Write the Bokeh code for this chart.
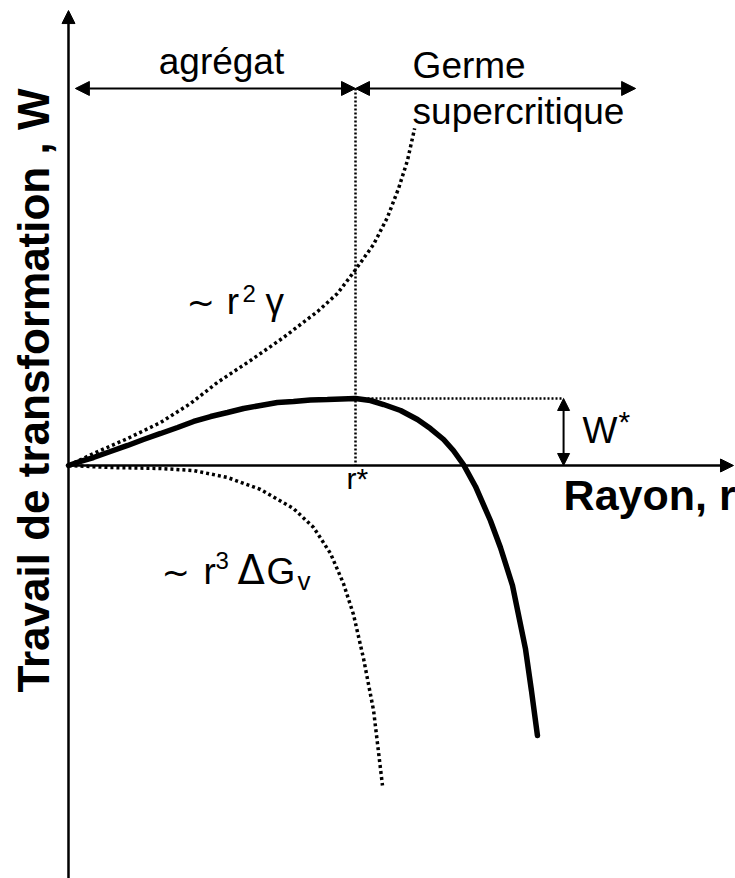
import math
from bokeh.plotting import figure
from bokeh.models import Range1d, Arrow, NormalHead, Label
from bokeh.embed import file_html
from bokeh.resources import INLINE

# ---- data (schematic units: r* = 1, W* = 1) ----
r_star = 1.0
w_star = 1.0
r_germe_end = 1.976

# total work W(r) (solid curve)
w_r = [0, 0.042, 0.087, 0.146, 0.206, 0.261, 0.321, 0.380, 0.436, 0.495, 0.554,
       0.610, 0.669, 0.728, 0.784, 0.843, 0.902, 0.951, 1.000, 1.052, 1.098,
       1.157, 1.216, 1.261, 1.307, 1.341, 1.376, 1.418, 1.470, 1.505, 1.547,
       1.592, 1.613, 1.634]
w_val = [0, 0.060, 0.119, 0.209, 0.299, 0.388, 0.478, 0.567, 0.657, 0.731, 0.791,
         0.851, 0.896, 0.940, 0.955, 0.978, 0.985, 0.993, 1.000, 0.970, 0.910,
         0.821, 0.687, 0.552, 0.388, 0.224, 0.015, -0.313, -0.821, -1.224, -1.791,
         -2.731, -3.358, -4.030]

# surface term ~ r^2 gamma (dotted)
surf_r = [0, 0.087, 0.206, 0.321, 0.425, 0.519, 0.634, 0.749, 0.868, 0.937,
          0.993, 1.063, 1.111, 1.150, 1.181, 1.206]
surf_val = [0, 0.179, 0.403, 0.642, 0.925, 1.239, 1.567, 1.910, 2.299, 2.567,
            2.881, 3.299, 3.701, 4.134, 4.552, 5.030]

# volume term ~ r^3 dGv (dotted)
vol_r = [0, 0.146, 0.321, 0.436, 0.554, 0.669, 0.784, 0.854, 0.913, 0.958,
         0.993, 1.028, 1.063, 1.094]
vol_val = [0, -0.030, -0.045, -0.075, -0.179, -0.358, -0.642, -0.925, -1.313,
           -1.761, -2.224, -2.881, -3.657, -4.776]

FONT = "Liberation Sans"

p = figure(width=735, height=878,
           x_range=Range1d(-0.2369, 2.3240), y_range=Range1d(-6.164, 6.940),
           x_axis_type=None, y_axis_type=None,
           output_backend="svg", toolbar_location=None, min_border=0)
p.grid.visible = False
p.outline_line_color = None
p.background_fill_color = "white"

def head(s):
    return NormalHead(size=s, fill_color="black", line_color="black", line_width=1)

# axes as arrows
p.add_layout(Arrow(end=head(13), x_start=0, y_start=-6.164, x_end=0, y_end=6.79,
                   line_width=2.5, line_color="black"))
p.add_layout(Arrow(end=head(13), x_start=0, y_start=0, x_end=2.317, y_end=0,
                   line_width=2.5, line_color="black"))

# curves
p.line(x=surf_r, y=surf_val, line_color="black", line_width=3.5, line_dash="3 3")
p.line(x=vol_r, y=vol_val, line_color="black", line_width=3.5, line_dash="3 3")
p.line(x=w_r, y=w_val, line_color="black", line_width=5.5, line_cap="round")

# guide lines
y_top = 5.627
w_arrow_x = 1.725
p.line(x=[r_star, r_star], y=[y_top, 0], line_color="black", line_width=2.5, line_dash="2 2")
p.line(x=[r_star, w_arrow_x], y=[w_star, w_star], line_color="black", line_width=2.5, line_dash="2 2")

p.add_layout(Arrow(start=head(14), end=head(14), x_start=0.024, y_start=y_top,
                   x_end=r_star, y_end=y_top, line_width=2, line_color="black"))
p.add_layout(Arrow(start=head(14), end=head(14), x_start=r_star, y_start=y_top,
                   x_end=r_germe_end, y_end=y_top, line_width=2, line_color="black"))
p.add_layout(Arrow(start=head(12), end=head(12), x_start=w_arrow_x, y_start=w_star,
                   x_end=w_arrow_x, y_end=0, line_width=2, line_color="black"))

def lab(x, y, t, size, align="left", style="normal", angle=0, baseline="alphabetic",
        font=FONT, lift=True):
    # raise baseline-anchored text a little so its glyphs sit where the reference has them
    dy = 0.3 * size / 67.0 if lift else 0.0
    p.add_layout(Label(x=x, y=y + dy, text=t, text_font=font, text_font_size=f"{size}px",
                       text_align=align, text_baseline=baseline, text_font_style=style,
                       angle=angle, text_color="black"))

lab(0.533, 5.866, "agrégat", 37, align="center")
lab(1.199, 5.806, "Germe", 37)
lab(1.199, 5.119, "supercritique", 37)

# ~ r^2 gamma
lab(0.411, 2.284, "~", 34, font="DejaVu Sans")
lab(0.551, 2.284, "r", 37)
lab(0.606, 2.463, "2", 24)
lab(0.686, 2.284, "γ", 37)

# ~ r^3 dGv
lab(0.324, -1.746, "~", 34, font="DejaVu Sans")
lab(0.470, -1.746, "r", 37)
lab(0.512, -1.522, "3", 24)
lab(0.589, -1.746, "Δ", 40, font="DejaVu Sans")
lab(0.690, -1.746, "G", 37)
lab(0.798, -1.836, "v", 26)

lab(0.969, -0.328, "r*", 30)
lab(1.791, 0.358, "W", 37)
lab(1.916, 0.515, "*", 30)

lab(1.725, -0.627, "Rayon, r", 43, style="bold")
lab(-0.122, 1.119, "Travail de transformation , W", 44, align="center",
    style="bold", angle=math.pi / 2, baseline="middle", lift=False)

open("out.html", "w").write(file_html(p, INLINE))
